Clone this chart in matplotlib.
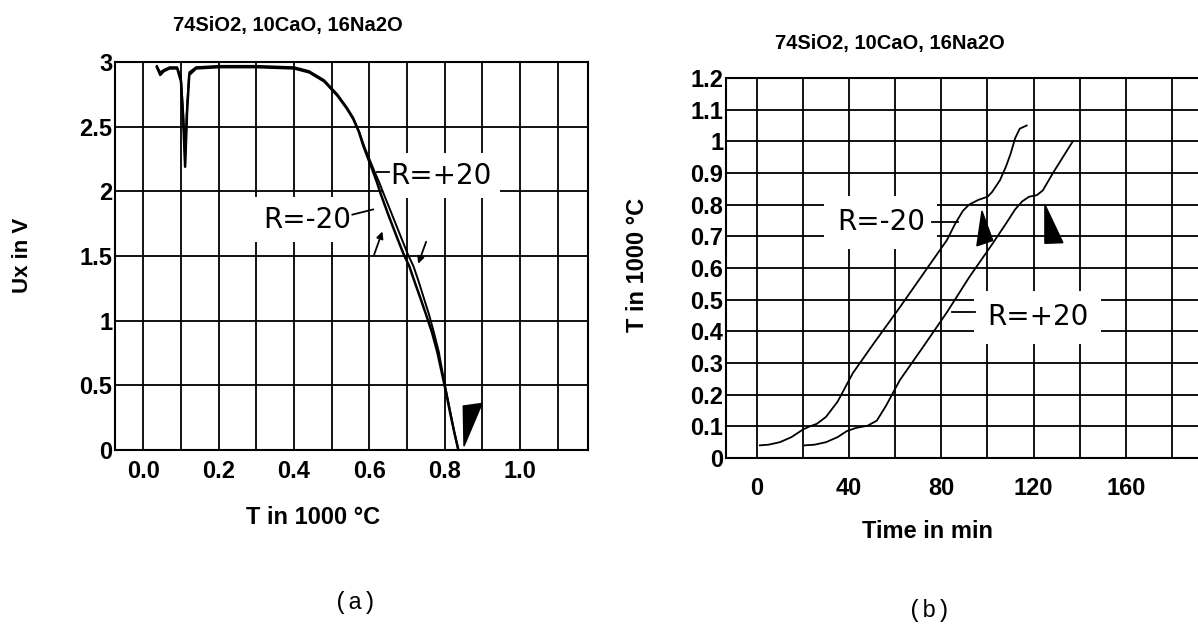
import numpy as np
import matplotlib
matplotlib.use("Agg")
from matplotlib import pyplot as plt
from matplotlib.patches import Polygon

# ---- data ----
title = "74SiO2, 10CaO, 16Na2O"

# (a) Ux vs T, two nearly coincident runs
temp_minus = [0.036, 0.045, 0.055, 0.070, 0.090, 0.100, 0.106, 0.111, 0.116, 0.122, 0.140,
              0.200, 0.300, 0.400, 0.440, 0.480, 0.515, 0.540, 0.557, 0.572, 0.584, 0.597,
              0.610, 0.620, 0.630, 0.650, 0.675, 0.690, 0.706, 0.720, 0.737, 0.750, 0.766,
              0.780, 0.792, 0.803, 0.814, 0.825, 0.836]
ux_minus = [2.96, 2.90, 2.93, 2.95, 2.95, 2.85, 2.55, 2.19, 2.60, 2.90, 2.95,
            2.96, 2.96, 2.95, 2.92, 2.85, 2.74, 2.64, 2.56, 2.46, 2.35, 2.25,
            2.15, 2.07, 1.98, 1.82, 1.63, 1.52, 1.42, 1.30, 1.16, 1.05, 0.91,
            0.76, 0.60, 0.45, 0.29, 0.14, 0.00]
temp_plus = [0.036, 0.045, 0.055, 0.070, 0.090, 0.100, 0.106, 0.111, 0.116, 0.122, 0.140,
             0.200, 0.300, 0.400, 0.440, 0.480, 0.515, 0.540, 0.557, 0.573, 0.586, 0.600,
             0.614, 0.626, 0.638, 0.660, 0.686, 0.701, 0.717, 0.731, 0.746, 0.758, 0.771,
             0.784, 0.794, 0.804, 0.815, 0.825, 0.836]
ux_plus = [2.97, 2.92, 2.94, 2.96, 2.96, 2.88, 2.60, 2.25, 2.65, 2.92, 2.96,
           2.97, 2.97, 2.96, 2.93, 2.86, 2.75, 2.65, 2.57, 2.46, 2.35, 2.25,
           2.15, 2.07, 1.98, 1.82, 1.63, 1.52, 1.42, 1.30, 1.16, 1.05, 0.91,
           0.76, 0.60, 0.45, 0.29, 0.14, 0.00]

# (b) T vs time
time_minus = [1.3, 5, 10, 15, 20, 23, 26, 30, 35, 41.6, 50, 62, 72, 82.4, 86, 89.3, 92,
              96, 100, 102, 105.4, 108, 110, 112, 114, 117]
t_minus = [0.040, 0.042, 0.050, 0.066, 0.090, 0.100, 0.108, 0.130, 0.178, 0.268, 0.355,
           0.476, 0.580, 0.688, 0.740, 0.780, 0.800, 0.815, 0.825, 0.840, 0.877, 0.920,
           0.960, 1.010, 1.040, 1.050]
time_plus = [20.8, 25, 30, 35, 39, 43, 48, 52, 56, 62, 72, 82.4, 92, 102.3, 108, 112, 115,
             118, 121.4, 124, 128.4, 132.7, 137]
t_plus = [0.040, 0.042, 0.050, 0.066, 0.085, 0.095, 0.102, 0.118, 0.165, 0.246, 0.350,
          0.460, 0.570, 0.678, 0.740, 0.785, 0.810, 0.825, 0.830, 0.845, 0.900, 0.950, 1.000]

a_xgrid = [0.0, 0.1, 0.2, 0.3, 0.4, 0.5, 0.6, 0.7, 0.8, 0.9, 1.0, 1.1]
a_xlabels = ["0.0", "", "0.2", "", "0.4", "", "0.6", "", "0.8", "", "1.0", ""]
a_yticks = [0, 0.5, 1, 1.5, 2, 2.5, 3]
a_ylabels = ["0", "0.5", "1", "1.5", "2", "2.5", "3"]
b_xgrid = [0, 20, 40, 60, 80, 100, 120, 140, 160, 180]
b_xlabels = ["0", "", "40", "", "80", "", "120", "", "160", ""]
b_yticks = [0, 0.1, 0.2, 0.3, 0.4, 0.5, 0.6, 0.7, 0.8, 0.9, 1.0, 1.1, 1.2]
b_ylabels = ["0", "0.1", "0.2", "0.3", "0.4", "0.5", "0.6", "0.7", "0.8", "0.9", "1", "1.1", "1.2"]

W, H = 1198, 626
BOLD = dict(family="Liberation Sans", weight="bold")


def px_box(l, t, r, b):
    return [l / W, 1 - b / H, (r - l) / W, (b - t) / H]


def fig_xy(x, y):
    return x / W, 1 - y / H


def style_axes(ax, xpad, ypad):
    ax.grid(True, color="black", lw=1.3, zorder=1)
    ax.set_axisbelow(True)
    ax.tick_params(length=0, labelsize=17)
    ax.tick_params(axis="x", pad=xpad)
    ax.tick_params(axis="y", pad=ypad)
    for lab in ax.get_xticklabels() + ax.get_yticklabels():
        lab.set_fontfamily("Liberation Sans")
        lab.set_fontweight("bold")
    for sp in ax.spines.values():
        sp.set_linewidth(1.5)


fig = plt.figure(figsize=(W / 100, H / 100), dpi=100)
fig.patch.set_facecolor("white")

box = dict(facecolor="white", edgecolor="none", pad=6)

# ---------------- panel (a) ----------------
ax1 = fig.add_axes(px_box(115, 62, 588, 450))
ax1.set_xlim(-0.075, 1.18)
ax1.set_ylim(0, 3)
ax1.set_xticks(a_xgrid, a_xlabels)
ax1.set_yticks(a_yticks, a_ylabels)
style_axes(ax1, 7, 2)
ax1.plot(temp_minus, ux_minus, color="black", lw=1.8, zorder=4, solid_joinstyle="round")
ax1.plot(temp_plus, ux_plus, color="black", lw=1.4, zorder=4, solid_joinstyle="round")

ax1.text(0.655, 2.12, "R=+20", fontsize=20, family="DejaVu Sans", va="center",
         bbox=box, zorder=3)
ax1.plot([0.62, 0.652], [2.15, 2.15], color="black", lw=1.3, zorder=4)
ax1.text(0.318, 1.78, "R=-20", fontsize=20, family="DejaVu Sans", va="center",
         bbox=box, zorder=3)
ax1.plot([0.555, 0.61], [1.82, 1.86], color="black", lw=1.3, zorder=4)
ax1.annotate("", xy=(0.637, 1.71), xytext=(0.61, 1.49),
             arrowprops=dict(arrowstyle="-|>", color="black", lw=1.3, mutation_scale=10), zorder=5)
ax1.annotate("", xy=(0.727, 1.42), xytext=(0.753, 1.63),
             arrowprops=dict(arrowstyle="-|>", color="black", lw=1.3, mutation_scale=10), zorder=5)
ax1.add_patch(Polygon([(0.849, 0.34), (0.899, 0.36), (0.851, 0.03)], closed=True,
                      facecolor="black", edgecolor="black", zorder=5))

# ---------------- panel (b) ----------------
ax2 = fig.add_axes(px_box(726, 78, 1198, 458))
ax2.set_xlim(-13.4, 191.3)
ax2.set_ylim(0, 1.2)
ax2.set_xticks(b_xgrid, b_xlabels)
ax2.set_yticks(b_yticks, b_ylabels)
style_axes(ax2, 14, 2)
ax2.spines["right"].set_visible(False)
ax2.plot(time_minus, t_minus, color="black", lw=1.3, zorder=4, solid_joinstyle="round")
ax2.plot(time_plus, t_plus, color="black", lw=1.3, zorder=4, solid_joinstyle="round")

ax2.text(34.7, 0.745, "R=-20", fontsize=20, family="DejaVu Sans", va="center",
         bbox=dict(facecolor="white", edgecolor="none", pad=9), zorder=3)
ax2.plot([76, 87], [0.745, 0.745], color="black", lw=1.3, zorder=4)
ax2.text(99.7, 0.445, "R=+20", fontsize=20, family="DejaVu Sans", va="center",
         bbox=dict(facecolor="white", edgecolor="none", pad=9), zorder=3)
ax2.plot([84.5, 94.5], [0.46, 0.46], color="black", lw=1.3, zorder=4)
ax2.add_patch(Polygon([(97.6, 0.78), (95.4, 0.67), (102.3, 0.687)], closed=True,
                      facecolor="black", edgecolor="black", zorder=5))
ax2.add_patch(Polygon([(124.9, 0.80), (124.9, 0.678), (132.7, 0.68)], closed=True,
                      facecolor="black", edgecolor="black", zorder=5))

# ---------------- texts ----------------
fig.text(*fig_xy(288, 26), title, fontsize=14.5, ha="center", va="center", **BOLD)
fig.text(*fig_xy(890, 43), title, fontsize=14.5, ha="center", va="center", **BOLD)
fig.text(*fig_xy(22, 255), "Ux in V", fontsize=16, rotation=90, ha="center", va="center", **BOLD)
fig.text(*fig_xy(638, 265), "T in 1000 °C", fontsize=17, rotation=90, ha="center", va="center", **BOLD)
fig.text(*fig_xy(313, 517), "T in 1000 °C", fontsize=17, ha="center", va="center", **BOLD)
fig.text(*fig_xy(927, 531), "Time in min", fontsize=17, ha="center", va="center", **BOLD)
fig.text(*fig_xy(355, 603), "(a)", fontsize=17, family="Liberation Mono", ha="center", va="center")
fig.text(*fig_xy(929, 611), "(b)", fontsize=17, family="Liberation Mono", ha="center", va="center")

fig.savefig("out.png", dpi=100)
